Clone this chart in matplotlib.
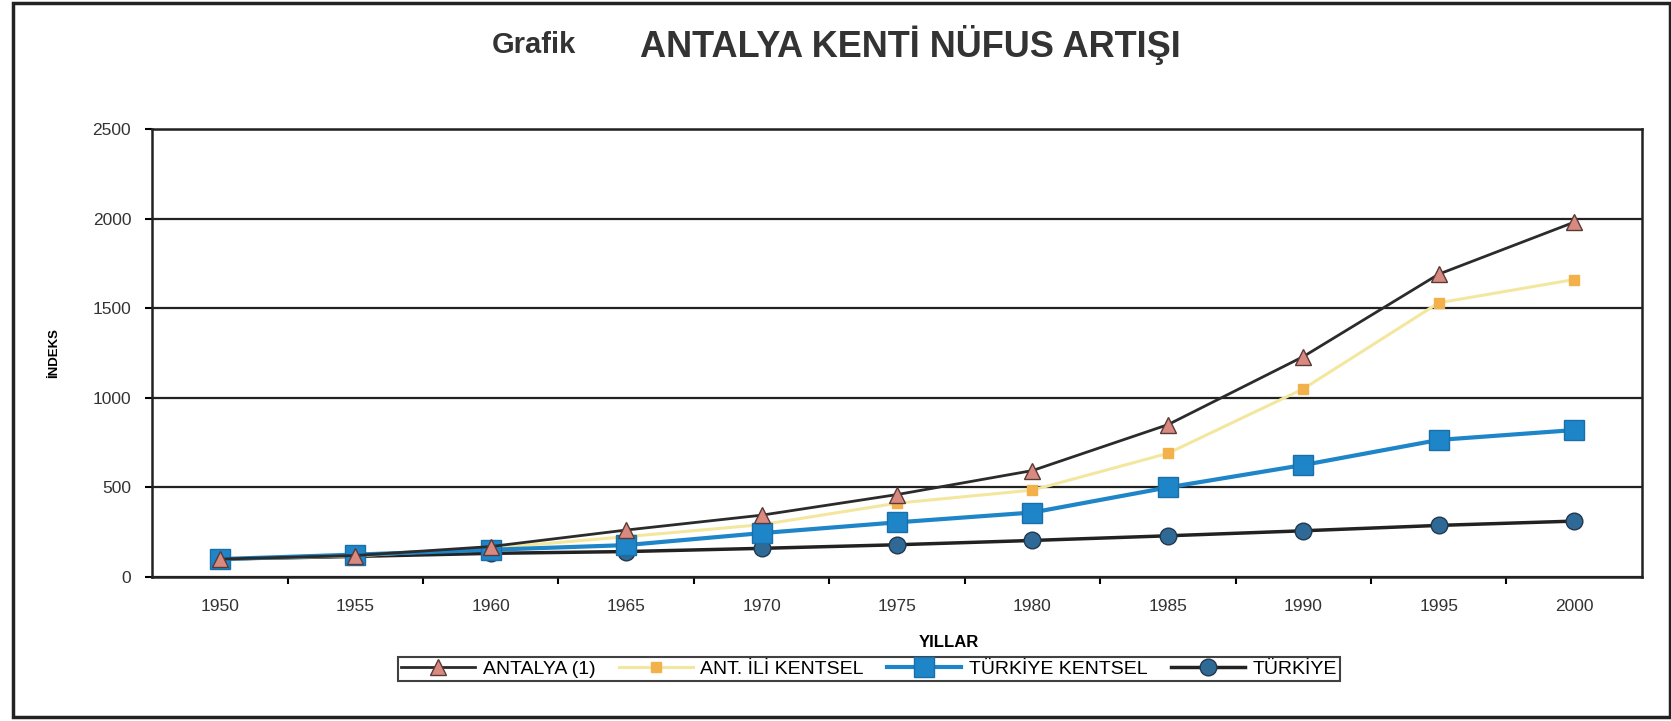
import matplotlib.pyplot as plt
from matplotlib.patches import Rectangle
from matplotlib.ticker import FixedLocator, MultipleLocator

plt.rcParams['font.family'] = ['Liberation Sans', 'DejaVu Sans']

years = ['1950', '1955', '1960', '1965', '1970', '1975', '1980', '1985', '1990', '1995', '2000']
antalya = [100, 120, 170, 262, 345, 460, 594, 850, 1230, 1690, 1980]
ant_ili_kentsel = [100, 118, 160, 225, 292, 412, 485, 690, 1050, 1530, 1660]
turkiye_kentsel = [100, 125, 152, 178, 245, 305, 360, 500, 625, 765, 820]
turkiye = [100, 115, 132, 142, 160, 180, 204, 230, 258, 288, 312]

fig = plt.figure(figsize=(16.71, 7.21), dpi=100)
ax = fig.add_axes([0.091, 0.1997, 0.8916, 0.6214])

x = range(len(years))
ax.plot(x, antalya, color='#2b2b2b', lw=2, marker='^', ms=12,
        mfc='#d98a80', mec='#5a3a36', mew=1, label='ANTALYA (1)', zorder=4)
ax.plot(x, ant_ili_kentsel, color='#f3e7a0', lw=2.2, marker='s', ms=7,
        mfc='#f2b14a', mec='#f2b14a', label='ANT. İLİ KENTSEL', zorder=3)
ax.plot(x, turkiye_kentsel, color='#1e86c8', lw=3, marker='s', ms=14,
        mfc='#1e86c8', mec='#1a6fa8', label='TÜRKİYE KENTSEL', zorder=3)
ax.plot(x, turkiye, color='#222222', lw=2.5, marker='o', ms=12,
        mfc='#2f6996', mec='#23384d', label='TÜRKİYE', zorder=2)

ax.set_xlim(-0.5, len(years) - 0.5)
ax.set_ylim(0, 2500)
ax.yaxis.set_major_locator(MultipleLocator(500))
ax.grid(axis='y', color='#222222', lw=1.6)
ax.set_axisbelow(True)

ax.xaxis.set_major_locator(FixedLocator(list(x)))
ax.set_xticklabels(years)
ax.xaxis.set_minor_locator(FixedLocator([i + 0.5 for i in range(len(years) - 1)]))
ax.tick_params(axis='x', which='major', length=0, pad=16, labelsize=12.5, colors='#333333')
ax.tick_params(axis='x', which='minor', length=5, width=1.5, direction='out')
ax.tick_params(axis='y', length=5, width=1.5, direction='out', pad=10, labelsize=12.5,
               labelcolor='#333333')

for sp in ax.spines.values():
    sp.set_linewidth(1.8)
    sp.set_color('#222222')

ax.set_xlabel('YILLAR', fontsize=12, fontweight='bold')
ax.xaxis.set_label_coords(0.535, -0.13)
ax.set_ylabel('İNDEKS', fontsize=9.5, fontweight='bold')
ax.yaxis.set_label_coords(-0.062, 0.5)

fig.text(0.345, 0.938, 'Grafik', fontsize=21, fontweight='bold',
         ha='right', va='center', color='#333333')
fig.text(0.383, 0.938, 'ANTALYA KENTİ NÜFUS ARTIŞI', fontsize=26,
         fontweight='bold', ha='left', va='center', color='#333333')

leg = fig.legend(loc='center', bbox_to_anchor=(0.52, 0.072), ncol=4,
                 fontsize=14, frameon=True, fancybox=False, handlelength=3.8,
                 columnspacing=1.2, handletextpad=0.4, borderpad=0.15,
                 borderaxespad=0)
leg.get_frame().set_edgecolor('#111111')
leg.get_frame().set_linewidth(1.5)

fig.add_artist(Rectangle((0.0075, 0.0055), 0.992, 0.99, transform=fig.transFigure,
                         fill=False, edgecolor='#222222', lw=2.5))

plt.savefig('out.png', dpi=100)
